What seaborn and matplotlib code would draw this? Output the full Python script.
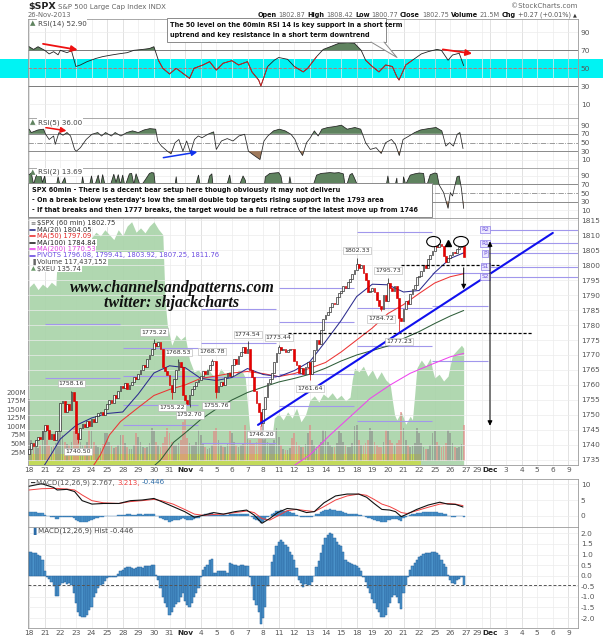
import numpy as np
import matplotlib
matplotlib.use("Agg")
import matplotlib.pyplot as plt
import seaborn as sns
from matplotlib.patches import Rectangle, Ellipse, Polygon
from matplotlib.lines import Line2D
from matplotlib import font_manager

# ---------------- data ----------------
day_bars = [7] * 28 + [7, 4, 7, 7, 7, 7, 7, 7]
day_labels = ['18', '21', '22', '23', '24', '25', '28', '29', '30', '31', 'Nov', '4', '5', '6', '7', '8',
              '11', '12', '13', '14', '15', '18', '19', '20', '21', '22', '25', '26', '27', '29', 'Dec',
              '3', '4', '5', '6', '9']
monday_labels = ['21', '28', 'Nov', '4', '11', '18', '25', 'Dec', '9']

first_open = 1737.0
closes = [
    1738.5, 1740.5, 1739.5, 1741.5, 1742.5, 1742.0, 1744.5,   # Oct 18
    1746.5, 1745.0, 1742.0, 1743.5, 1741.5, 1744.5, 1744.7,   # Oct 21
    1754.0, 1754.5, 1751.0, 1753.5, 1751.5, 1757.5, 1754.7,   # Oct 22
    1744.0, 1742.0, 1745.5, 1747.0, 1746.0, 1748.0, 1746.4,   # Oct 23
    1748.5, 1747.5, 1749.5, 1750.5, 1751.0, 1750.0, 1752.1,   # Oct 24
    1753.5, 1755.0, 1754.0, 1756.5, 1755.5, 1758.0, 1759.8,   # Oct 25
    1759.0, 1760.5, 1758.5, 1760.0, 1761.0, 1762.5, 1762.1,   # Oct 28
    1763.5, 1765.0, 1766.5, 1766.0, 1768.5, 1770.0, 1772.0,   # Oct 29
    1774.0, 1773.0, 1774.5, 1772.0, 1766.0, 1764.5, 1763.3,   # Oct 30
    1760.0, 1757.5, 1762.0, 1765.0, 1767.5, 1766.0, 1756.5,   # Oct 31
    1755.0, 1753.5, 1756.5, 1758.5, 1759.5, 1761.0, 1761.6,   # Nov 1
    1763.0, 1764.5, 1763.5, 1765.0, 1766.5, 1768.0, 1767.9,   # Nov 4
    1757.5, 1759.5, 1761.0, 1760.0, 1762.5, 1764.0, 1763.0,   # Nov 5
    1766.5, 1768.5, 1767.0, 1769.5, 1771.0, 1772.5, 1770.5,   # Nov 6
    1772.0, 1765.0, 1762.5, 1758.0, 1754.0, 1751.0, 1747.2,   # Nov 7
    1752.0, 1756.0, 1760.5, 1762.0, 1764.0, 1767.5, 1770.6,   # Nov 8
    1772.5, 1771.5, 1772.0, 1771.0, 1771.5, 1772.0, 1771.9,   # Nov 11
    1768.0, 1766.5, 1764.0, 1765.5, 1763.5, 1766.0, 1767.7,   # Nov 12
    1763.5, 1768.0, 1771.5, 1775.0, 1773.5, 1778.5, 1782.0,   # Nov 13
    1783.5, 1784.5, 1786.0, 1787.5, 1787.0, 1789.5, 1790.6,   # Nov 14
    1791.5, 1793.0, 1792.5, 1794.5, 1795.5, 1797.0, 1798.2,   # Nov 15
    1800.5, 1799.0, 1800.0, 1797.5, 1795.0, 1791.0, 1791.5,   # Nov 18
    1792.5, 1791.0, 1788.5, 1786.5, 1785.5, 1790.0, 1787.9,   # Nov 19
    1794.0, 1792.5, 1791.5, 1793.0, 1789.0, 1782.5, 1781.4,   # Nov 20
    1785.5, 1788.0, 1787.0, 1790.5, 1792.0, 1793.5, 1795.9,   # Nov 21
    1796.5, 1798.0, 1800.0, 1799.0, 1802.0, 1803.5, 1804.8,   # Nov 22
    1806.5, 1806.0, 1807.0, 1806.5, 1803.0, 1801.0, 1802.5,   # Nov 25
    1803.5, 1804.5, 1804.0, 1805.5, 1806.0, 1806.5, 1802.75,  # Nov 26
]
volume_m = [
    180, 60, 45, 40, 38, 45, 85,   95, 60, 45, 40, 42, 50, 80,   110, 75, 55, 48, 45, 55, 95,
    100, 70, 55, 45, 45, 55, 90,   85, 55, 45, 40, 38, 48, 80,   80, 55, 42, 38, 40, 45, 75,
    75, 50, 40, 35, 35, 45, 80,    70, 55, 40, 38, 40, 50, 95,   85, 55, 45, 40, 50, 70, 95,
    80, 55, 45, 45, 50, 60, 112,   124, 65, 50, 45, 45, 55, 90,  75, 50, 40, 35, 38, 45, 85,
    95, 60, 45, 40, 40, 50, 85,    80, 55, 45, 40, 45, 50, 104,  85, 60, 50, 48, 55, 65, 100,
    112, 70, 55, 50, 50, 60, 95,   70, 45, 35, 30, 30, 38, 65,   80, 55, 45, 40, 40, 48, 80,
    104, 60, 45, 40, 45, 55, 90,   85, 55, 45, 40, 40, 50, 85,   80, 55, 45, 40, 40, 50, 100,
    104, 60, 45, 45, 50, 60, 95,   85, 55, 45, 40, 40, 55, 90,   85, 60, 50, 45, 50, 60, 142,
    95, 60, 45, 40, 42, 50, 95,    80, 50, 40, 35, 35, 45, 80,   85, 55, 45, 40, 42, 50, 90,
    80, 50, 40, 38, 40, 48, 104,
]
hist = [
    1.14, 1.12, 1.08, 1.05, 1.0, 0.95, 0.75,   0.2, -0.05, -0.15, -0.3, -0.5, -0.98, -0.95,
    -0.45, -0.35, -0.3, -0.4, -0.35, -0.45, -0.84,   -1.3, -1.7, -1.9, -1.95, -1.95, -1.85, -1.6,
    -1.5, -1.0, -0.8, -0.6, -0.45, -0.37, -0.25,   -0.1, -0.08, -0.05, -0.05, -0.05, 0.1, 0.2,
    0.27, 0.35, 0.4, 0.43, 0.38, 0.33, 0.35,   0.4, 0.4, 0.38, 0.46, 0.45, 0.48, 0.5,
    0.5, 0.02, -0.2, -0.6, -1.0, -1.3, -1.5,   -1.87, -1.7, -1.5, -1.35, -1.24, -1.0, -0.84,
    -1.2, -1.4, -1.48, -1.3, -1.0, -0.8, -0.6,   -0.05, 0.27, 0.4, 0.5, 0.75, 0.78, 0.14,
    0.14, 0.2, 0.22, 0.24, 0.24, 0.14, 0.59,   0.55, 0.5, 0.5, 0.48, 0.5, 0.5, 0.46,
    0.46, -0.05, -0.5, -1.16, -1.4, -1.7, -2.27,   -2.0, -1.48, -0.5, 0.0, 0.67, 1.0, 1.38,
    1.6, 1.7, 1.6, 1.46, 1.35, 1.14, 1.0,   0.75, 0.35, -0.2, -0.35, -0.52, -0.4, -0.42,
    -0.45, -0.3, -0.02, 0.43, 0.7, 1.06, 1.45,   1.78, 1.9, 2.0, 1.95, 1.78, 1.6, 1.45,
    1.38, 1.1, 0.75, 0.65, 0.6, 0.56, 0.5,   0.46, 0.35, 0.2, -0.05, -0.29, -0.6, -0.84,
    -1.1, -1.3, -1.55, -1.7, -1.95, -1.95, -1.87,   -1.5, -1.3, -1.0, -0.92, -1.0, -1.3, -1.55,
    -0.84, -0.44, -0.05, 0.27, 0.45, 0.59, 0.75,   0.9, 0.95, 1.03, 1.05, 1.06, 1.08, 1.11,
    1.11, 1.05, 0.98, 0.75, 0.55, 0.43, 0.03,   -0.2, -0.35, -0.4, -0.2, -0.15, -0.05, -0.446,
]

macd_bar = [0, 5.6, 11, 12.6, 17, 20.4, 23.8, 28.2, 33.4, 40.3, 45.5, 50.7, 56, 59.4, 64.6, 69.8, 74.2,
            78.5, 82.8, 87.2, 92.4, 97.6, 101, 104.5, 108, 111.5, 115.8, 120.1, 124.5, 128, 132.3, 137.5,
            142.7, 147.9, 151.4, 154.8, 158.3, 161.8, 164.4, 167, 169.6, 173.9, 179.1, 184.3, 187.8,
            191.3, 194.7]
macd_line = [9.4, 10.2, 9.0, 8.2, 8.4, 7.7, 4.8, 3.7, 3.9, 3.9, 4.8, 5.0, 5.5, 4.5, 2.9, 1.3, -0.5,
             0.2, 1.0, 0.5, 1.3, 1.8, 0.2, -2.4, -0.9, 1.0, 2.3, 2.0, 1.0, 1.3, 4.1, 6.3,
             6.9, 6.9, 5.9, 3.9, 2.0, 1.8, 1.3, -0.3, 0.5, 2.0, 3.4, 4.3, 3.7, 3.6, 2.767]
macd_signal = [8.2, 8.6, 8.7, 8.7, 8.5, 8.2, 6.6, 4.8, 4.1, 3.9, 4.5, 4.8, 5.2, 4.8, 3.7, 2.0, 0.5,
               0.1, 0.4, 0.5, 1.0, 1.5, 1.0, -0.9, -1.4, -0.1, 1.6, 2.0, 1.6, 1.3, 2.9, 5.0,
               6.3, 6.9, 6.5, 5.2, 3.7, 2.9, 2.0, 1.0, 0.7, 1.6, 2.7, 3.7, 3.9, 3.7, 3.213]

rsi14_bar = [0, 2, 4, 7, 9, 11, 13, 14, 17, 19, 21, 23, 26, 30, 33, 37, 40, 44, 47, 51, 54, 56, 58, 60, 63,
             66, 69, 72, 74, 78, 81, 84, 87, 91, 94, 98, 100, 103, 104, 107, 110, 112, 116, 119, 123, 125,
             129, 132, 136, 139, 143, 146, 149, 151, 154, 157, 160, 163, 165, 166, 169, 172, 176, 179, 183,
             185, 188, 190, 193, 195]
rsi14_val = [74, 71, 74, 70, 66, 68.5, 65, 70, 67.4, 69.6, 52, 53.7, 57.4, 61, 63, 64.8, 66, 67.4, 70, 71,
             72, 74, 59, 50, 43.7, 50, 44.4, 38.9, 50, 53.7, 57.4, 48, 55.6, 58.5, 53.7, 57.4, 46, 37, 30.4,
             51.9, 59, 62, 60, 52, 46, 50, 63, 71, 74.8, 77.8, 78.5, 77.8, 70, 59, 52, 46, 53.7, 52, 40.7,
             37, 53.7, 59, 66, 68.5, 71, 70, 59, 64.8, 66.7, 52.9]
rsi14_red_spans = [(57, 108), (119, 129), (150, 172)]

rsi5_bar = [0, 1, 4, 6.5, 7.4, 9, 11, 11.7, 13.4, 15.2, 17, 18.6, 20.4, 21.2, 23, 25.6, 28.2, 30.8, 32.5,
            34.3, 36.9, 38.6, 41.2, 43.8, 46.4, 49, 51.6, 54.2, 56.8, 57.7, 59.4, 62, 63.7, 65.5, 67.2, 69,
            70.7, 72.4, 74.2, 75.9, 77.6, 80.2, 82.8, 84, 86.3, 88.9, 91.5, 94.1, 96.7, 98.4, 101, 103.6,
            105.4, 107.1, 109.7, 112.3, 114.9, 117.5, 119.3, 121, 122.7, 124.5, 126.2, 128, 129.7, 131.4,
            134, 137.5, 140.1, 142.7, 146.2, 148.8, 151, 153.1, 155.7, 158, 160, 162.6, 164.4, 166.1,
            167.8, 170.5, 173, 175.7, 179.1, 182.6, 185.2, 187, 188.7, 190.4, 192.1, 193.3, 194.7]
rsi5_val = [80.7, 73, 79, 80.7, 69, 57, 65, 45.7, 73, 66.7, 73, 65, 34, 30, 38, 57, 69, 73, 65,
            73, 65, 73, 65, 73, 76.8, 73, 79, 82, 80.7, 53.5, 41.8, 30, 24, 49.6, 57, 30,
            53.5, 26, 57, 65, 61, 69, 74.5, 34, 53.5, 59, 53.5, 65, 69, 30, 20, 10.7,
            53.5, 65, 76.8, 80.7, 76.8, 69, 57, 34, 20, 49.6, 61, 76.8, 65, 80.7,
            84.6, 87, 90, 80.7, 84.6, 80.7, 49.6, 34, 38, 24.7, 49.6, 57, 45.7, 20,
            57, 65, 73, 79, 82, 84.6, 76.8, 41.8, 49.6, 41.8, 69, 73, 36]

rsi2_bar = [0, 1, 2, 3, 4, 5, 6, 7, 8, 10, 12, 13, 14, 16, 17, 19, 21, 22, 23, 24, 25, 27, 28, 29, 31, 32,
            33, 34, 36, 38, 39, 40, 41, 42, 43, 45, 46, 47, 48, 50, 52, 54, 55, 56, 57, 58, 60, 62, 64, 66,
            67, 69, 71, 72, 74, 76, 77, 79, 81, 82, 83, 84, 86, 88, 90, 91, 93, 96, 97, 98, 100, 102, 104,
            105, 106, 108, 110, 112, 113, 114, 116, 117, 118, 120, 123, 125, 127, 129, 131, 133, 135, 137,
            139, 141, 142, 144, 145, 146, 148, 150, 152, 154, 156, 158, 160, 161, 162, 163, 165, 166, 167,
            168, 169, 171, 173, 175, 177, 178, 180, 182, 183, 184, 186, 188, 189, 190, 192, 193, 194, 195]
rsi2_val = [93, 97, 70, 88, 96, 97, 75, 90, 55, 40, 60, 88, 65, 86, 60, 45, 15, 10, 50, 88, 55, 65, 90, 60,
            92, 65, 93, 70, 60, 94, 75, 93, 70, 92, 65, 95, 96, 70, 95, 65, 80, 96, 98, 97, 50, 25, 12, 20,
            10, 88, 40, 8, 30, 8, 55, 92, 60, 45, 90, 95, 40, 8, 40, 55, 92, 60, 50, 90, 80, 30, 15, 8, 3,
            40, 88, 96, 97, 98, 90, 60, 50, 88, 60, 30, 10, 30, 60, 92, 96, 97, 98, 97, 98, 95, 60, 93, 96,
            85, 60, 30, 20, 40, 25, 10, 60, 90, 55, 40, 85, 10, 5, 88, 70, 92, 95, 97, 96, 60, 93, 97, 96,
            69, 51, 14, 51, 43, 88, 90, 60, 13.69]

ma20_bar = [5, 10, 14, 21, 28, 35, 42, 49, 56, 63, 70, 77, 84, 91, 98, 105, 112, 119, 126, 133, 140, 147,
            154, 161, 168, 175, 182, 189, 195]
ma20_val = [1731, 1737, 1742, 1746.5, 1749, 1750.5, 1751, 1757, 1764, 1766.4, 1765.8, 1762.2, 1761.5,
            1762.5, 1765.5, 1763.5, 1762.8, 1764.8, 1767.8, 1774.5, 1781.5, 1789.5, 1793.6, 1793.4,
            1791.0, 1791.5, 1797.5, 1802.2, 1804.05]
ma50_bar = [27, 32, 36, 41, 49, 56, 63, 70, 77, 84, 91, 98, 105, 112, 119, 126, 133, 140, 147, 154, 161,
            168, 175, 182, 189, 195]
ma50_val = [1731, 1736.7, 1743.3, 1747.8, 1752.5, 1756.5, 1758.5, 1760, 1762.2, 1763, 1764, 1764.5,
            1763.8, 1762.8, 1763.8, 1765.6, 1767.5, 1771, 1775, 1779, 1783.8, 1786.8, 1790.5, 1794,
            1796.1, 1797.09]
ma100_bar = [53, 59, 65, 70, 77, 84, 91, 98, 105, 112, 119, 126, 133, 140, 147, 154, 161, 168, 175, 182,
             189, 195]
ma100_val = [1731, 1735, 1741, 1744, 1748.5, 1752, 1755, 1757.5, 1759.3, 1761, 1762.2, 1763.6, 1765.6,
             1768, 1770, 1771.5, 1773, 1775.5, 1777.8, 1780.5, 1783, 1784.84]
ma200_bar = [110, 117, 126, 135, 144, 153, 162, 171, 180, 189, 195]
ma200_val = [1729, 1732.2, 1736.7, 1743.3, 1749.4, 1755.5, 1760, 1763.9, 1766.7, 1769.4, 1770.53]

xeu_bar = [0, 2, 4, 6, 8, 10, 12, 13, 14, 16, 18, 20, 22, 24, 26, 28, 30, 32, 34, 36, 38, 40, 42, 44, 46,
           48, 50, 52, 54, 56, 58, 60, 61, 62, 64, 66, 68, 70, 72, 74, 76, 78, 80, 82, 84, 86, 88, 90, 92,
           94, 96, 97, 98, 99, 101, 103, 105, 107, 109, 110, 112, 114, 116, 118, 120, 122, 124, 126, 128,
           130, 132, 134, 136, 138, 140, 142, 144, 145, 146, 148, 150, 152, 154, 156, 158, 160, 162, 163,
           164, 165, 167, 169, 171, 172, 173, 174, 176, 178, 180, 181, 182, 184, 186, 188, 189, 190, 192,
           194, 195]
xeu_val = [136.73, 136.80, 136.69, 136.78, 136.72, 136.81, 136.75, 137.50, 137.69, 137.61, 137.72, 137.64,
           137.56, 137.67, 137.59, 137.53, 137.62, 137.56, 137.66, 137.58, 137.50, 137.66, 137.56, 137.72,
           137.79, 137.62, 137.69, 137.61, 137.72, 137.79, 137.67, 137.58, 136.52, 136.12, 135.79, 135.96,
           135.88, 135.94, 135.55, 135.36, 135.39, 135.29, 135.42, 135.32, 135.26, 135.41, 135.32, 135.37,
           135.29, 135.39, 135.34, 135.26, 134.82, 134.42, 134.32, 134.38, 134.25, 134.35, 134.30, 134.61,
           134.68, 134.58, 134.71, 134.61, 134.77, 134.55, 134.66, 134.90, 134.97, 134.87, 135.00, 134.94,
           135.02, 134.92, 134.98, 134.89, 134.95, 135.23, 135.42, 135.36, 135.45, 135.29, 135.39, 135.24,
           135.36, 135.23, 135.16, 134.90, 134.66, 134.58, 134.71, 134.51, 134.64, 134.58, 134.98, 135.42,
           135.55, 135.45, 135.58, 135.39, 135.26, 135.32, 135.21, 135.29, 135.47, 135.63, 135.71, 135.79,
           135.74]

ext_bar = [19, 22, 56, 64, 67, 72, 82, 84, 98, 104, 112, 126, 147, 158, 161, 166]
ext_val = [1758.16, 1740.50, 1775.22, 1755.22, 1768.53, 1752.70, 1768.78, 1755.76, 1774.54, 1746.20,
           1773.44, 1761.64, 1802.33, 1784.72, 1795.73, 1777.23]
ext_side = ['hi', 'lo', 'hi', 'lo', 'hi', 'lo', 'hi', 'lo', 'hi', 'lo', 'hi', 'lo', 'hi', 'lo', 'hi', 'lo']

pivot_weeks = [(7, 41, [1762.2, 1780.2]),
               (42, 76, [1746.7, 1753.3, 1763.0, 1772.2]),
               (77, 111, [1740.5, 1762.8, 1773.9, 1785.5]),
               (112, 146, [1753.0, 1763.7, 1781.1, 1792.2]),
               (147, 181, [1748.0, 1773.1, 1785.8, 1810.9]),
               (181, 206, [1768.0, 1786.3, 1797.4])]
pivot_names = ['S2', 'S1', 'P', 'R1', 'R2']
pivot_now = [1796.08, 1799.41, 1803.92, 1807.25, 1811.76]

# ---------------- style ----------------
sns.set_theme(style="white")
plt.rcParams['font.family'] = ['DejaVu Sans']
_names = {f.name for f in font_manager.fontManager.ttflist}
NARROW = 'Liberation Sans Narrow' if 'Liberation Sans Narrow' in _names else 'DejaVu Sans'
NSIZE = 5.9 if NARROW != 'DejaVu Sans' else 4.7
SERIF = 'Liberation Serif' if 'Liberation Serif' in _names else 'DejaVu Serif'

FW, FH = 603, 640
fig = plt.figure(figsize=(FW / 100, FH / 100), dpi=100)
fig.patch.set_facecolor('white')

def fx(x):
    return x / FW

def fy(y):
    return 1 - y / FH

LPX, RPX = 28, 578

def panel(top, bottom):
    return fig.add_axes([fx(LPX), fy(bottom), (RPX - LPX) / FW, (bottom - top) / FH])

n = len(closes)
bars = np.arange(n)
starts = np.concatenate([[0], np.cumsum(day_bars)[:-1]])
XMIN, XMAX = -0.5, 246.3
TICKC = '#555555'

def frame(ax):
    ax.set_xlim(XMIN, XMAX)
    for s, lab in zip(starts, day_labels):
        c = '#d6d6d6' if lab in monday_labels else '#ececec'
        ax.axvline(s, color=c, lw=0.5, zorder=0)
    for sp in ax.spines.values():
        sp.set_color('#9a9a9a')
        sp.set_linewidth(0.6)
    ax.tick_params(axis='both', length=0, labelsize=5.3, labelcolor=TICKC, pad=2)

def xlabels(ax):
    ax.set_xticks(starts)
    ax.set_xticklabels(day_labels)
    for i, t in enumerate(ax.get_xticklabels()):
        if t.get_text() in ('Nov', 'Dec'):
            t.set_fontweight('bold')
            t.set_color('#222')
        if i + 1 < len(day_labels) and day_labels[i + 1] == 'Dec':
            t.set_horizontalalignment('right')
    ax.tick_params(axis='x', pad=1.5)

def right_ticks(ax, ticks, labels=None, grid=True):
    ax.yaxis.tick_right()
    ax.set_yticks(ticks)
    if labels is not None:
        ax.set_yticklabels(labels)
    if grid:
        for t in ticks:
            ax.axhline(t, color='#ececec', lw=0.5, zorder=0.5)

# cyan band that crosses the whole figure
fig.add_artist(Rectangle((0, fy(78)), 1, 19 / FH, transform=fig.transFigure,
                         facecolor='#00f3f3', edgecolor='none', zorder=-1))

# ---------------- RSI(14) ----------------
ax14 = panel(19, 118)
ax14.patch.set_visible(False)
frame(ax14)
ax14.set_ylim(-5.2, 104.8)
right_ticks(ax14, [10, 30, 50, 70, 90], grid=False)
for t in (10, 90):
    ax14.axhline(t, color='#ececec', lw=0.5, zorder=0.5)
ax14.set_xticks([])
ax14.axhline(70, color='#7a7a7a', lw=0.7, zorder=1)
ax14.axhline(30, color='#7a7a7a', lw=0.7, zorder=1)
ax14.axhline(50, color='#e06060', lw=0.6, ls=(0, (4, 2)), zorder=1)
r14 = np.array(rsi14_val)
b14 = np.array(rsi14_bar)
ax14.fill_between(b14, r14, 70, where=r14 >= 70, interpolate=True, color='#5f835f', lw=0, zorder=2)
ax14.fill_between(b14, r14, 30, where=r14 <= 30, interpolate=True, color='#a07a5c', lw=0, zorder=2)
sns.lineplot(x=b14, y=r14, ax=ax14, color='#222222', lw=0.6, zorder=3, legend=False)
for a, b in rsi14_red_spans:
    m = (b14 >= a) & (b14 <= b)
    ax14.plot(b14[m], r14[m], color='#e02020', lw=0.6, zorder=4)
ax14.annotate('', xy=(23, 70), xytext=(5, 77.7),
              arrowprops=dict(arrowstyle='-|>', color='#ee1111', lw=1.3, mutation_scale=9), zorder=6)
ax14.annotate('', xy=(200, 66), xytext=(184.4, 71.4),
              arrowprops=dict(arrowstyle='-|>', color='#ee1111', lw=1.3, mutation_scale=9), zorder=6)
ax14.set_ylabel('')

# ---------------- RSI(5) / RSI(2) ----------------
def rsi_small(ax, bx, vals, ylim):
    frame(ax)
    ax.set_ylim(*ylim)
    right_ticks(ax, [10, 30, 50, 70, 90], grid=False)
    for t in (10, 90):
        ax.axhline(t, color='#ececec', lw=0.5, zorder=0.5)
    ax.set_xticks([])
    ax.axhline(70, color='#8a8a8a', lw=0.7, zorder=1)
    ax.axhline(30, color='#8a8a8a', lw=0.7, zorder=1)
    ax.axhline(50, color='#8a8a8a', lw=0.6, ls='-.', zorder=1)
    bx = np.array(bx)
    v = np.array(vals)
    ax.fill_between(bx, v, 70, where=v >= 70, interpolate=True, color='#5f835f', lw=0, zorder=2)
    ax.fill_between(bx, v, 30, where=v <= 30, interpolate=True, color='#a07a5c', lw=0, zorder=2)
    sns.lineplot(x=bx, y=v, ax=ax, color='#222222', lw=0.55, zorder=3, legend=False)
    ax.set_ylabel('')

ax5 = panel(118, 168)
rsi_small(ax5, rsi5_bar, rsi5_val, (-8.8, 106.5))
ax5.annotate('', xy=(18, 76), xytext=(6.3, 85.3),
             arrowprops=dict(arrowstyle='-|>', color='#ee1111', lw=1.1, mutation_scale=8), zorder=6)
ax5.annotate('', xy=(76.7, 29), xytext=(59, 14),
             arrowprops=dict(arrowstyle='-|>', color='#1133ee', lw=1.1, mutation_scale=8), zorder=6)

ax2 = panel(168, 218)
rsi_small(ax2, rsi2_bar, rsi2_val, (-8.8, 108.8))

# ---------------- price panel ----------------
axb = panel(218, 465)
frame(axb)
xlabels(axb)
axb.set_yticks([])
axb.set_ylim(133.85, 137.85)
xb = np.array(xeu_bar)
xv = np.array(xeu_val)
axb.fill_between(xb, xv, 133.0, color='#acd5ac', lw=0, zorder=1, alpha=0.95)

ax_vol = axb.twinx()
ax_vol.set_ylim(-12.8, 707.7)
ax_vol.yaxis.tick_left()
ax_vol.set_yticks([25, 50, 75, 100, 125, 150, 175, 200])
ax_vol.set_yticklabels(['25M', '50M', '75M', '100M', '125M', '150M', '175M', '200M'])
ax_vol.tick_params(axis='y', length=0, labelsize=5.1, labelcolor=TICKC, pad=1.5)
for sp in ax_vol.spines.values():
    sp.set_visible(False)
ax_vol.fill_between([0, 176], -12.8, 19, color='#c9dc3e', alpha=0.75, lw=0, zorder=1)

opens = [first_open] + closes[:-1]
up = [c >= o for o, c in zip(opens, closes)]
vcol = ['#8a8a8a' if u else '#e58282' for u in up]
ax_vol.bar(bars, volume_m, width=0.78, color=vcol, alpha=0.6, lw=0, zorder=2)

ax_p = axb.twinx()
ax_p.set_xlim(XMIN, XMAX)
ax_p.set_ylim(1733.33, 1815.67)
for sp in ax_p.spines.values():
    sp.set_visible(False)
ax_p.tick_params(axis='y', length=0, labelsize=5.3, labelcolor=TICKC, pad=2)
right_ticks(ax_p, list(range(1735, 1816, 5)))

# pivots
for a, b, levels in pivot_weeks:
    for lv in levels:
        ax_p.hlines(lv, a, b, color='#a197ec', lw=0.8, zorder=2)
for nm, lv in zip(pivot_names, pivot_now):
    ax_p.hlines(lv, 206.3, XMAX, color='#a197ec', lw=0.8, zorder=2)
    ax_p.text(204.6, lv, nm, fontsize=4.2, color='#6a50d8', ha='center', va='center', zorder=7,
              bbox=dict(boxstyle='square,pad=0.15', fc='#ece8ff', ec='#8f80e8', lw=0.5))

# moving averages
for bx, vals, col in [(ma200_bar, ma200_val, '#ee44ee'), (ma100_bar, ma100_val, '#2f5e3a'),
                      (ma50_bar, ma50_val, '#ec3434'), (ma20_bar, ma20_val, '#2c2c8e')]:
    sns.lineplot(x=bx, y=vals, ax=ax_p, color=col, lw=0.75, zorder=4, legend=False)
ax_p.set_ylabel('')

# candles
body_lo = [min(o, c) for o, c in zip(opens, closes)]
body_h = [max(abs(c - o), 0.25) for o, c in zip(opens, closes)]
face = ['#fafafa' if u else '#e80000' for u in up]
edge = ['#1a1a1a' if u else '#d00000' for u in up]
for b, v, sd in zip(ext_bar, ext_val, ext_side):
    lim = max(opens[b], closes[b]) if sd == 'hi' else min(opens[b], closes[b])
    ax_p.vlines(b, min(lim, v), max(lim, v), color=edge[b], lw=0.5, zorder=4.5)
ax_p.bar(bars, body_h, bottom=body_lo, width=0.8, color=face, edgecolor=edge, linewidth=0.45, zorder=5)

# annotations drawn on the price chart
ax_p.hlines(1800, 167, 211, color='black', lw=0.9, ls=(0, (2.5, 1.5)), zorder=6)
ax_p.hlines(1777.5, 116, 226, color='black', lw=0.9, ls=(0, (2.5, 1.5)), zorder=6)
ax_p.plot([102.7, 235], [1746.7, 1810.7], color='#1010ee', lw=1.5, zorder=6)
ax_p.annotate('', xy=(195, 1791), xytext=(195, 1800),
              arrowprops=dict(arrowstyle='-|>', color='black', lw=0.7, mutation_scale=7), zorder=7)
ax_p.annotate('', xy=(206.8, 1745.5), xytext=(206.8, 1808.8),
              arrowprops=dict(arrowstyle='<|-|>', color='black', lw=0.7, mutation_scale=7), zorder=7)
ax_p.plot([188], [1807.4], marker='^', color='black', ms=5, zorder=7)
ax_p.add_patch(Ellipse((181.5, 1807.8), 6.2, 3.4, fill=False, ec='black', lw=0.8, zorder=7))
ax_p.add_patch(Ellipse((193.8, 1807.8), 6.6, 3.4, fill=False, ec='black', lw=0.8, zorder=7))
for b, v, sd in zip(ext_bar, ext_val, ext_side):
    off = 5.2 if sd == 'hi' else -5.8
    ax_p.annotate(f'{v:.2f}', xy=(b, v), xytext=(0, off), textcoords='offset points',
                  ha='center', va='center', fontsize=4.5, color='#333', zorder=8,
                  bbox=dict(boxstyle='square,pad=0.18', fc='white', ec='#b0b0b0', lw=0.4))

# ---------------- MACD ----------------
axm = panel(479, 527)
frame(axm)
axm.set_ylim(-3.6, 11.7)
right_ticks(axm, [0, 5, 10])
axm.set_xticks([])
axm.bar(bars, hist, width=1.0, color='#4a92c9', edgecolor='#2a6aa6', linewidth=0.25, zorder=2)
sns.lineplot(x=macd_bar, y=macd_signal, ax=axm, color='#f04040', lw=0.7, zorder=3, legend=False)
sns.lineplot(x=macd_bar, y=macd_line, ax=axm, color='#111111', lw=0.8, zorder=4, legend=False)
axm.set_ylabel('')

axh = panel(527, 628)
frame(axh)
axh.set_ylim(-2.47, 2.30)
hticks = [-2.0, -1.5, -1.0, -0.5, 0.0, 0.5, 1.0, 1.5, 2.0]
right_ticks(axh, hticks, [f'{t:.1f}' for t in hticks])
xlabels(axh)
axh.bar(bars, hist, width=1.0, color='#4a92c9', edgecolor='#245f99', linewidth=0.35, zorder=2)
axh.axhline(hist[-1], color='#555', lw=0.7, ls=(0, (3, 2)), zorder=3)

# ---------------- texts ----------------
R = fig.canvas.get_renderer()

def seq(x0, y, parts, size, align='left', z=6, gap=2.2):
    objs = []
    for s, kw in parts:
        props = dict(fontsize=size, va='center', ha='left', zorder=z)
        props.update(kw)
        t = fig.text(0, fy(y), s, **props)
        objs.append(t)
    widths = [t.get_window_extent(renderer=R).width for t in objs]
    total = sum(widths) + gap * (len(objs) - 1)
    x = x0 - total if align == 'right' else x0
    for t, w in zip(objs, widths):
        t.set_x(fx(x))
        x += w + gap
    return objs

seq(28, 6.5, [('$SPX', dict(fontweight='bold', color='#222', fontsize=6.8)),
              ('S&P 500 Large Cap Index INDX', dict(color='#666'))], 5.0, gap=2.5)
fig.text(fx(577), fy(6), '\u00a9StockCharts.com', fontsize=5.0, color='#666', va='center', ha='right')
fig.text(fx(28), fy(15), '26-Nov-2013', fontsize=4.9, color='#666', va='center')
B = dict(fontweight='bold', color='#111')
G = dict(color='#666')
seq(577, 15, [('Open', B), ('1802.87', G), ('High', B), ('1808.42', G), ('Low', B), ('1800.77', G),
              ('Close', B), ('1802.75', G), ('Volume', B), ('21.5M', G), ('Chg', B),
              ('+0.27 (+0.01%)', dict(color='#555')), ('\u25b2', dict(color='#333', fontsize=3.6))],
    4.7, align='right', gap=2.0)

WB = dict(boxstyle='square,pad=0.12', fc='white', ec='none')
seq(30, 23.5, [('\u25b2', dict(color='#5f835f')), ('RSI(14) 52.90', dict(color='#444', bbox=WB))], 5.1)
seq(30, 122.5, [('\u25b2', dict(color='#5f835f')), ('RSI(5) 36.00', dict(color='#444', bbox=WB))], 5.1)
seq(30, 172, [('\u25b2', dict(color='#5f835f')), ('RSI(2) 13.69', dict(color='#444', bbox=WB))], 5.1)
seq(30, 482.5, [('\u2501', dict(color='#333')), ('MACD(12,26,9) 2.767,', dict(color='#555')),
                ('3.213,', dict(color='#f04040')), ('-0.446', dict(color='#2a6aa6'))], 5.1)
seq(30, 531, [('\u2590', dict(color='#2a6aa6')), ('MACD(12,26,9) Hist -0.446', dict(color='#444'))], 5.1)

leg = [('$SPX (60 min) 1802.75', '#333', None),
       ('MA(20) 1804.05', '#333', '#2c2c8e'),
       ('MA(50) 1797.09', '#e02020', '#ec3434'),
       ('MA(100) 1784.84', '#222', '#222222'),
       ('MA(200) 1770.53', '#e040e0', '#ee44ee'),
       ('PIVOTS 1796.08, 1799.41, 1803.92, 1807.25, 1811.76', '#6a4ae0', '#6a4ae0'),
       ('Volume 117,437,152', '#444', None),
       ('$XEU 135.74', '#444', None)]
for i, (s, c, mc) in enumerate(leg):
    yy = 223 + 6.5 * i
    fig.text(fx(37), fy(yy), s, fontsize=4.9, color=c, va='center', zorder=6,
             bbox=dict(boxstyle='square,pad=0.1', fc='white', ec='none'))
    if mc is not None:
        fig.add_artist(Line2D([fx(30), fx(35)], [fy(yy), fy(yy)], color=mc, lw=1.2,
                              transform=fig.transFigure, zorder=6))
    else:
        fig.text(fx(30.5), fy(yy), '\u2590' if i == 6 else ('\u25b2' if i == 7 else '\u2261'),
                 fontsize=4.5, color='#666' if i != 7 else '#6a9a6a', va='center', zorder=6)

# watermark
fig.text(fx(172), fy(288), 'www.channelsandpatterns.com', fontsize=11.5, family=SERIF, style='italic',
         fontweight='bold', color='#111', ha='center', va='center', zorder=6)
fig.text(fx(172), fy(303), 'twitter: shjackcharts', fontsize=11.5, family=SERIF, style='italic',
         fontweight='bold', color='#111', ha='center', va='center', zorder=6)

# callout 1 (RSI 14)
fig.add_artist(Polygon([[fx(371), fy(41.6)], [fx(397), fy(57.5)], [fx(384), fy(41.6)]], closed=True,
                       transform=fig.transFigure, fc='white', ec='none', zorder=5))
fig.add_artist(Rectangle((fx(167), fy(42)), (386 - 167) / FW, 24 / FH, transform=fig.transFigure,
                         fc='white', ec='#8a8a8a', lw=0.7, zorder=5))
fig.add_artist(Line2D([fx(371.6), fx(383.6)], [fy(42), fy(42)], color='white', lw=1.2,
                      transform=fig.transFigure, zorder=5.1))
fig.add_artist(Line2D([fx(371), fx(397), fx(384)], [fy(42), fy(57.5), fy(42)], color='#8a8a8a', lw=0.7,
                      transform=fig.transFigure, zorder=5.2))
fig.text(fx(170), fy(25.5), 'The 50 level on the 60min RSI 14 is key support in a short term',
         family=NARROW, fontsize=NSIZE, fontweight='bold', color='#111', va='center', zorder=6)
fig.text(fx(170), fy(35), 'uptrend and key resistance in a short term downtrend',
         family=NARROW, fontsize=NSIZE, fontweight='bold', color='#111', va='center', zorder=6)

# callout 2 (RSI 2)
fig.add_artist(Rectangle((fx(28), fy(217)), (432 - 28) / FW, 34 / FH, transform=fig.transFigure,
                         fc='white', ec='#8a8a8a', lw=0.7, zorder=5))
notes = ["SPX 60min - There is a decent bear setup here though obviously it may not deliveru",
         "- On a break below yesterday's low the small double top targets rising support in the 1793 area",
         "- If that breaks and then 1777 breaks, the target would be a full retrace of the latest move up from 1746"]
for i, s in enumerate(notes):
    fig.text(fx(32), fy(190 + 10 * i), s, family=NARROW, fontsize=NSIZE, fontweight='bold',
             color='#111', va='center', zorder=6)

fig.savefig('out.png', dpi=100)
